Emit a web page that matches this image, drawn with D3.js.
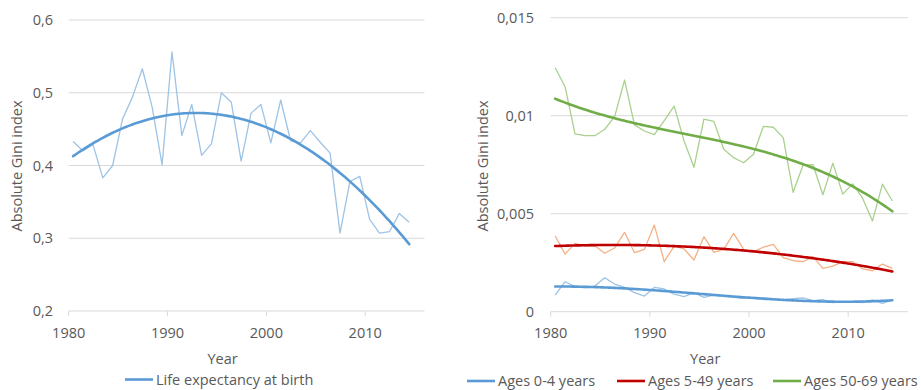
<!DOCTYPE html>
<html>
<head>
<meta charset="utf-8">
<script src="https://cdn.jsdelivr.net/npm/d3@7"></script>
<style>
  body { margin: 0; background: #fff; }
  text { font-family: "Open Sans", sans-serif; fill: #595959; }
</style>
</head>
<body>
<svg id="chart" width="921" height="390"></svg>
<script>
const years = d3.range(1980, 2015);

const lifeExp = [0.433, 0.420, 0.429, 0.383, 0.400, 0.464, 0.494, 0.533, 0.480, 0.401,
                 0.556, 0.441, 0.484, 0.414, 0.430, 0.500, 0.487, 0.406, 0.472, 0.484,
                 0.431, 0.490, 0.434, 0.431, 0.448, 0.432, 0.417, 0.307, 0.378, 0.385,
                 0.326, 0.307, 0.309, 0.334, 0.322];

const ages0to4 = [0.00085, 0.00153, 0.00128, 0.00122, 0.00131, 0.00173, 0.00141, 0.00124, 0.00097, 0.00080,
                  0.00124, 0.00116, 0.00090, 0.00077, 0.00097, 0.00073, 0.00085, 0.00080, 0.00073, 0.00068,
                  0.00073, 0.00070, 0.00065, 0.00060, 0.00067, 0.00070, 0.00056, 0.00062, 0.00046, 0.00050,
                  0.00050, 0.00046, 0.00060, 0.00043, 0.00060];

const ages5to49 = [0.00386, 0.00294, 0.00349, 0.00335, 0.00337, 0.00298, 0.00325, 0.00405, 0.00301, 0.00318,
                   0.00442, 0.00255, 0.00335, 0.00320, 0.00264, 0.00383, 0.00303, 0.00318, 0.00400, 0.00318,
                   0.00306, 0.00329, 0.00344, 0.00276, 0.00260, 0.00255, 0.00281, 0.00221, 0.00233, 0.00255,
                   0.00255, 0.00218, 0.00209, 0.00243, 0.00221];

const ages50to69 = [0.01245, 0.01148, 0.00907, 0.00898, 0.00898, 0.00931, 0.00995, 0.01182, 0.00953, 0.00922,
                    0.00903, 0.00975, 0.01049, 0.00871, 0.00737, 0.00983, 0.00971, 0.00829, 0.00786, 0.00760,
                    0.00803, 0.00946, 0.00941, 0.00888, 0.00609, 0.00748, 0.00750, 0.00597, 0.00758, 0.00600,
                    0.00652, 0.00579, 0.00463, 0.00651, 0.00565];

const leftTicks = [0.2, 0.3, 0.4, 0.5, 0.6];
const rightTicks = [0, 0.005, 0.01, 0.015];
const yearTicks = [1980, 1990, 2000, 2010];

const svg = d3.select("#chart");
const fmt = d => String(d).replace(".", ",");

// least squares polynomial fit, like an Excel trendline
function polyFit(xs, ys, order) {
    const n = order + 1;
    const A = d3.range(n).map(() => new Array(n + 1).fill(0));
    xs.forEach((x, k) => {
        for (let i = 0; i < n; i++) {
            for (let j = 0; j < n; j++) A[i][j] += Math.pow(x, i + j);
            A[i][n] += ys[k] * Math.pow(x, i);
        }
    });
    for (let c = 0; c < n; c++) {
        for (let r = c + 1; r < n; r++) {
            const f = A[r][c] / A[c][c];
            for (let j = c; j <= n; j++) A[r][j] -= f * A[c][j];
        }
    }
    const coef = new Array(n).fill(0);
    for (let r = n - 1; r >= 0; r--) {
        let s = A[r][n];
        for (let j = r + 1; j < n; j++) s -= A[r][j] * coef[j];
        coef[r] = s / A[r][r];
    }
    return x => coef.reduce((acc, c, i) => acc + c * Math.pow(x, i), 0);
}

function panel(opts) {
    const g = svg.append("g");
    const x = d3.scaleLinear().domain([1980, 2016]).range(opts.xRange);
    const y = d3.scaleLinear().domain(opts.yDomain).range(opts.yRange);
    const x0 = opts.xRange[0], x1 = opts.xRange[1];

    // gridlines
    g.selectAll(".grid").data(opts.yTicks.slice(1)).join("line")
        .attr("x1", x0).attr("x2", x1)
        .attr("y1", d => y(d)).attr("y2", d => y(d))
        .attr("stroke", "#d9d9d9").attr("stroke-width", 1);

    // x axis line and ticks
    g.append("line")
        .attr("x1", x0).attr("x2", x1)
        .attr("y1", y(opts.yDomain[0])).attr("y2", y(opts.yDomain[0]))
        .attr("stroke", "#d9d9d9").attr("stroke-width", 1);
    g.selectAll(".xtick").data(yearTicks).join("line")
        .attr("x1", d => x(d)).attr("x2", d => x(d))
        .attr("y1", y(opts.yDomain[0])).attr("y2", y(opts.yDomain[0]) + 5)
        .attr("stroke", "#d9d9d9");

    g.selectAll(".xlab").data(yearTicks).join("text")
        .attr("x", d => x(d)).attr("y", 338)
        .attr("text-anchor", "middle").attr("font-size", 14.5)
        .text(d => d);

    g.selectAll(".ylab").data(opts.yTicks).join("text")
        .attr("x", opts.yLabelX).attr("y", d => y(d) + 5)
        .attr("text-anchor", "end").attr("font-size", 14.5)
        .text(fmt);

    g.append("text")
        .attr("x", (x0 + x1) / 2 - 24).attr("y", 364)
        .attr("text-anchor", "middle").attr("font-size", 14.5)
        .text("Year");

    g.append("text")
        .attr("transform", `translate(${opts.titleX},166) rotate(-90)`)
        .attr("text-anchor", "middle").attr("font-size", 14.5)
        .text("Absolute Gini index");

    const px = years.map(d => d + 0.45);
    opts.series.forEach(s => {
        const line = d3.line().x(d => x(d[0])).y(d => y(d[1]));
        g.append("path")
            .datum(px.map((p, i) => [p, s.values[i]]))
            .attr("fill", "none").attr("stroke", s.light)
            .attr("stroke-width", 1.3).attr("stroke-linejoin", "round")
            .attr("d", line);

        const ts = px.map(p => p - 1997);
        const fit = polyFit(ts, s.values, s.order);
        const pts = d3.range(px[0], px[px.length - 1] + 0.001, 0.25).map(p => [p, fit(p - 1997)]);
        g.append("path")
            .datum(pts)
            .attr("fill", "none").attr("stroke", s.dark)
            .attr("stroke-width", 2.6).attr("stroke-linecap", "round")
            .attr("d", line.curve(d3.curveBasis));
    });

    // legend
    opts.legend.forEach(l => {
        g.append("line")
            .attr("x1", l.x).attr("x2", l.x + 28)
            .attr("y1", l.y).attr("y2", l.y)
            .attr("stroke", l.color).attr("stroke-width", 2.6);
        g.append("text")
            .attr("x", l.x + 31).attr("y", l.y + 5)
            .attr("font-size", 14.5)
            .text(l.label);
    });
}

panel({
    xRange: [68.7, 424.5],
    yDomain: [0.2, 0.6],
    yRange: [311, 20],
    yTicks: leftTicks,
    yLabelX: 53,
    titleX: 22,
    series: [{values: lifeExp, order: 2, light: "#9dc3e6", dark: "#5b9bd5"}],
    legend: [{x: 125, y: 379.5, color: "#5b9bd5", label: "Life expectancy at birth"}]
});

panel({
    xRange: [550.7, 907.7],
    yDomain: [0, 0.015],
    yRange: [311.7, 17.7],
    yTicks: rightTicks,
    yLabelX: 534,
    titleX: 488,
    series: [
        {values: ages0to4, order: 3, light: "#9dc3e6", dark: "#5b9bd5"},
        {values: ages5to49, order: 3, light: "#f4b183", dark: "#c00000"},
        {values: ages50to69, order: 3, light: "#a9d18e", dark: "#70ad47"}
    ],
    legend: [
        {x: 467, y: 381, color: "#5b9bd5", label: "Ages 0-4 years"},
        {x: 617, y: 381, color: "#c00000", label: "Ages 5-49 years"},
        {x: 773, y: 381, color: "#70ad47", label: "Ages 50-69 years"}
    ]
});
</script>
</body>
</html>
